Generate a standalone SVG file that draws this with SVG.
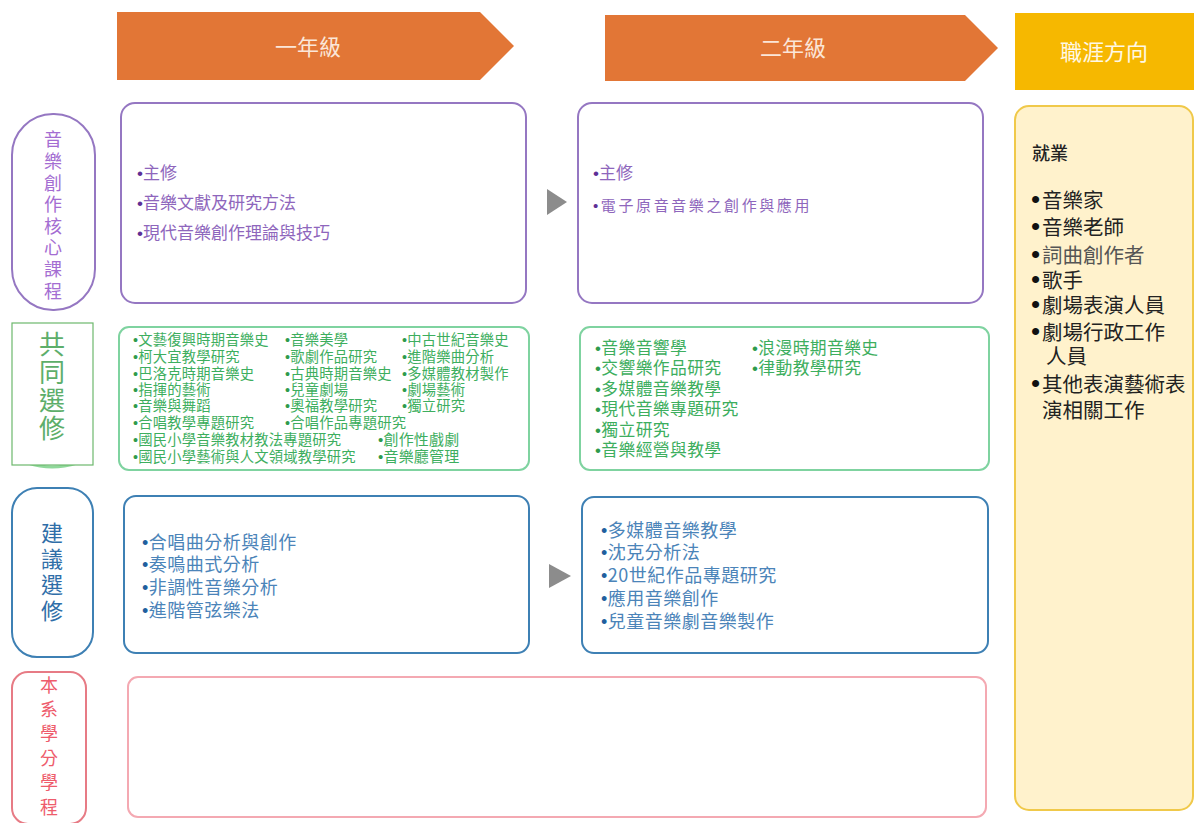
<svg xmlns="http://www.w3.org/2000/svg" width="1197" height="823" viewBox="0 0 1197 823">
<style>
text{font-family:"Noto Sans CJK TC","Noto Sans CJK SC",sans-serif;}
.b{font-family:"Liberation Sans",Arial,sans-serif;}
.hdr{fill:#E27636;}
.hdrt{fill:#FBE6D8;font-size:22px;text-anchor:middle;}
.pur{fill:#fff;stroke:#9577C2;stroke-width:2;}
.purt{fill:#8E66BC;font-size:17px;}
.pb{fill:#5E2F96;}
.grn{fill:#fff;stroke:#7FD3A0;stroke-width:2;}
.g1{fill:#3DAE5E;font-size:14.3px;letter-spacing:0.2px;}
.g2{fill:#3DAE5E;font-size:16.8px;letter-spacing:0.4px;}
.gb{fill:#2E9B4C;}
.blu{fill:#fff;stroke:#3E80B4;stroke-width:2;}
.blut{fill:#4B84B9;font-size:18px;letter-spacing:0.5px;}
.bb{fill:#1F5F9E;}
.vt{writing-mode:vertical-rl;text-anchor:middle;}
.v1{fill:#A46DD2;font-size:18px;letter-spacing:3.6px;}
.v2{fill:#5DAE6A;font-size:26px;letter-spacing:2px;}
.v3{fill:#2F6EA8;font-size:22px;letter-spacing:4px;}
.v4{fill:#EE5C6C;font-size:18px;letter-spacing:6.4px;}
.car{fill:#222;font-size:20.5px;}
.cb{font-family:"Liberation Sans",Arial,sans-serif;font-size:26px;fill:#111;}
.tri{fill:#8C8C8C;}
</style>
<rect width="1197" height="823" fill="#fff"/>

<g id="header-year1">
<polygon class="hdr" points="117,12 480,12 514,46 480,80 117,80"/>
<text class="hdrt" x="308" y="55">一年級</text>
</g>
<g id="header-year2">
<polygon class="hdr" points="605,15 965,15 998,48 965,81 605,81"/>
<text class="hdrt" x="793" y="56">二年級</text>
</g>
<g id="header-career">
<rect x="1015" y="13" width="179" height="77" fill="#F6B800"/>
<text class="hdrt" x="1104" y="60" style="fill:#FFF8E6">職涯方向</text>
</g>

<g id="label-core">
<rect x="12" y="114" width="83" height="196" rx="41" fill="#fff" stroke="#9577C2" stroke-width="2"/>
<text class="vt v1" x="53" y="217">音樂創作核心課程</text>
</g>
<g id="label-common">
<path d="M 28 463 Q 52 471 77 463" fill="none" stroke="#8FD89A" stroke-width="3"/>
<rect x="12" y="323" width="81" height="142" fill="#fff" stroke="#6DB86D" stroke-width="1.2"/>
<text class="vt v2" x="52" y="387">共同選修</text>
</g>
<g id="label-suggest">
<rect x="12" y="488" width="81" height="169" rx="25" fill="#fff" stroke="#3E80B4" stroke-width="2"/>
<text class="vt v3" x="52" y="574">建議選修</text>
</g>
<g id="label-program">
<rect x="12" y="672" width="74" height="152" rx="16" fill="#fff" stroke="#E77B85" stroke-width="2"/>
<text class="vt v4" x="49" y="749">本系學分學程</text>
</g>

<g id="core-y1">
<rect class="pur" x="121" y="103" width="405" height="200" rx="14"/>
<text class="purt" x="137" y="179"><tspan class="b pb">•</tspan>主修</text>
<text class="purt" x="137" y="209"><tspan class="b pb">•</tspan>音樂文獻及研究方法</text>
<text class="purt" x="137" y="239"><tspan class="b pb">•</tspan>現代音樂創作理論與技巧</text>
</g>
<g id="core-y2">
<rect class="pur" x="578" y="103" width="405" height="200" rx="14"/>
<text class="purt" x="593" y="179"><tspan class="b pb">•</tspan>主修</text>
<text class="purt" x="593" y="211" letter-spacing="2.6" style="font-family:'Liberation Serif','Noto Sans CJK TC',serif;font-size:15px"><tspan class="b pb">•</tspan>電子原音音樂之創作與應用</text>
</g>

<g id="common-y1">
<rect class="grn" x="119" y="327" width="410" height="143" rx="10"/>
<text class="g1">
<tspan x="133" y="345"><tspan class="b gb">•</tspan>文藝復興時期音樂史</tspan>
<tspan x="285" y="345"><tspan class="b gb">•</tspan>音樂美學</tspan>
<tspan x="402" y="345"><tspan class="b gb">•</tspan>中古世紀音樂史</tspan>
<tspan x="133" y="362"><tspan class="b gb">•</tspan>柯大宜教學研究</tspan>
<tspan x="285" y="362"><tspan class="b gb">•</tspan>歌劇作品研究</tspan>
<tspan x="402" y="362"><tspan class="b gb">•</tspan>進階樂曲分析</tspan>
<tspan x="133" y="379"><tspan class="b gb">•</tspan>巴洛克時期音樂史</tspan>
<tspan x="285" y="379"><tspan class="b gb">•</tspan>古典時期音樂史</tspan>
<tspan x="402" y="379"><tspan class="b gb">•</tspan>多媒體教材製作</tspan>
<tspan x="133" y="395"><tspan class="b gb">•</tspan>指揮的藝術</tspan>
<tspan x="285" y="395"><tspan class="b gb">•</tspan>兒童劇場</tspan>
<tspan x="402" y="395"><tspan class="b gb">•</tspan>劇場藝術</tspan>
<tspan x="133" y="411"><tspan class="b gb">•</tspan>音樂與舞蹈</tspan>
<tspan x="285" y="411"><tspan class="b gb">•</tspan>奧福教學研究</tspan>
<tspan x="402" y="411"><tspan class="b gb">•</tspan>獨立研究</tspan>
<tspan x="133" y="428"><tspan class="b gb">•</tspan>合唱教學專題研究</tspan>
<tspan x="285" y="428"><tspan class="b gb">•</tspan>合唱作品專題研究</tspan>
<tspan x="133" y="445"><tspan class="b gb">•</tspan>國民小學音樂教材教法專題研究</tspan>
<tspan x="378" y="445" style="font-size:15px"><tspan class="b gb">•</tspan>創作性戲劇</tspan>
<tspan x="133" y="462"><tspan class="b gb">•</tspan>國民小學藝術與人文領域教學研究</tspan>
<tspan x="378" y="462" style="font-size:15px"><tspan class="b gb">•</tspan>音樂廳管理</tspan>
</text>
</g>
<g id="common-y2">
<rect class="grn" x="580" y="327" width="409" height="143" rx="10"/>
<text class="g2">
<tspan x="595" y="354"><tspan class="b gb">•</tspan>音樂音響學</tspan>
<tspan x="752" y="354"><tspan class="b gb">•</tspan>浪漫時期音樂史</tspan>
<tspan x="595" y="374"><tspan class="b gb">•</tspan>交響樂作品研究</tspan>
<tspan x="752" y="374"><tspan class="b gb">•</tspan>律動教學研究</tspan>
<tspan x="595" y="395"><tspan class="b gb">•</tspan>多媒體音樂教學</tspan>
<tspan x="595" y="415"><tspan class="b gb">•</tspan>現代音樂專題研究</tspan>
<tspan x="595" y="436"><tspan class="b gb">•</tspan>獨立研究</tspan>
<tspan x="595" y="456"><tspan class="b gb">•</tspan>音樂經營與教學</tspan>
</text>
</g>

<g id="suggest-y1">
<rect class="blu" x="124" y="496" width="405" height="157" rx="12"/>
<text class="blut" x="142" y="549"><tspan class="b bb">•</tspan>合唱曲分析與創作</text>
<text class="blut" x="142" y="571"><tspan class="b bb">•</tspan>奏鳴曲式分析</text>
<text class="blut" x="142" y="594"><tspan class="b bb">•</tspan>非調性音樂分析</text>
<text class="blut" x="142" y="617"><tspan class="b bb">•</tspan>進階管弦樂法</text>
</g>
<g id="suggest-y2">
<rect class="blu" x="582" y="497" width="406" height="156" rx="12"/>
<text class="blut" x="601" y="537"><tspan class="b bb">•</tspan>多媒體音樂教學</text>
<text class="blut" x="601" y="559"><tspan class="b bb">•</tspan>沈克分析法</text>
<text class="blut" x="601" y="582"><tspan class="b bb">•</tspan>20世紀作品專題研究</text>
<text class="blut" x="601" y="605"><tspan class="b bb">•</tspan>應用音樂創作</text>
<text class="blut" x="601" y="628"><tspan class="b bb">•</tspan>兒童音樂劇音樂製作</text>
</g>

<g id="program">
<rect x="128" y="677" width="858" height="140" rx="10" fill="#fff" stroke="#F4A9B2" stroke-width="2"/>
</g>

<g id="career">
<rect x="1015" y="106" width="178" height="704" rx="14" fill="#FFF2CC" stroke="#F0C94A" stroke-width="2"/>
<text class="car" x="1032" y="160" style="font-size:18px;font-weight:500">就業</text>
<text class="car" x="1031" y="208"><tspan class="cb">•</tspan><tspan dx="2">音樂家</tspan></text>
<text class="car" x="1031" y="235"><tspan class="cb">•</tspan><tspan dx="2">音樂老師</tspan></text>
<text class="car" x="1031" y="263"><tspan class="cb">•</tspan><tspan dx="2" fill="#555">詞曲創作者</tspan></text>
<text class="car" x="1031" y="288"><tspan class="cb">•</tspan><tspan dx="2">歌手</tspan></text>
<text class="car" x="1031" y="313"><tspan class="cb">•</tspan><tspan dx="2">劇場表演人員</tspan></text>
<text class="car" x="1031" y="340"><tspan class="cb">•</tspan><tspan dx="2">劇場行政工作</tspan></text>
<text class="car" x="1046" y="364">人員</text>
<text class="car" x="1031" y="392"><tspan class="cb">•</tspan><tspan dx="2">其他表演藝術表</tspan></text>
<text class="car" x="1042" y="418">演相關工作</text>
</g>

<g id="connectors">
<polygon class="tri" points="547,189 567,202 547,215"/>
<polygon class="tri" points="549,564 571,576 549,588"/>
</g>
</svg>
